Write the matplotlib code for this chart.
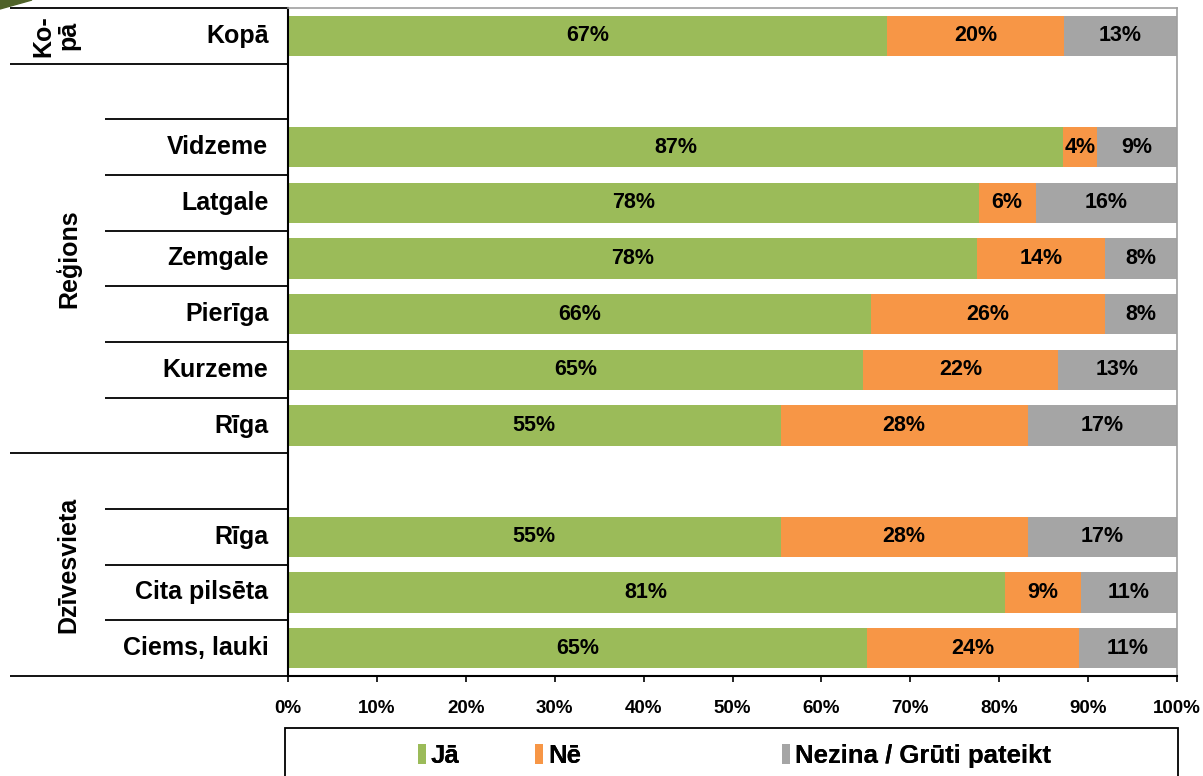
import matplotlib.pyplot as plt
import matplotlib.patches as mpatches
import numpy as np

plt.rcParams['font.family'] = ['Liberation Sans', 'DejaVu Sans']
plt.rcParams['font.weight'] = 'bold'

# rows from top to bottom, '' = empty spacer row
categories = ['Kopā', '', 'Vidzeme', 'Latgale', 'Zemgale', 'Pierīga', 'Kurzeme',
              'Rīga', '', 'Rīga', 'Cita pilsēta', 'Ciems, lauki']
ja = [67.4, np.nan, 87.2, 77.7, 77.5, 65.6, 64.7, 55.4, np.nan, 55.4, 80.6, 65.1]
ne = [19.9, np.nan, 3.8, 6.4, 14.4, 26.3, 21.9, 27.8, np.nan, 27.8, 8.6, 23.9]
nezina = [12.7, np.nan, 9.0, 15.9, 8.1, 8.1, 13.4, 16.8, np.nan, 16.8, 10.8, 11.0]
series_names = ['Jā', 'Nē', 'Nezina / Grūti pateikt']
colors = ['#9BBB59', '#F79646', '#A5A5A5']
# group labels: (text, first row, last row)
groups = [('Ko-\npā', 0, 0), ('Reģions', 1, 7), ('Dzīvesvieta', 8, 11)]

W, H = 1203, 776
fig = plt.figure(figsize=(W / 100, H / 100), dpi=100)
ax = fig.add_axes([288 / W, 1 - 676 / H, 889 / W, 668 / H])

y = np.arange(len(categories))
left = np.zeros(len(categories))
handles = []
for vals, name, col in zip([ja, ne, nezina], series_names, colors):
    vals = np.array(vals, dtype=float)
    v = np.nan_to_num(vals)
    bars = ax.barh(y, v, left=left, height=0.72, color=col, label=name)
    handles.append(bars)
    for yi, l, w in zip(y, left, vals):
        if not np.isnan(w):
            ax.text(l + w / 2, yi, f'{w:.0f}%', ha='center', va='center',
                    fontsize=15.5, fontweight='bold', color='black')
    left += v

ax.set_xlim(0, 100)
ax.set_ylim(len(categories) - 0.5, -0.5)
ax.set_xticks(np.arange(0, 101, 10))
ax.set_xticklabels([f'{t}%' for t in range(0, 101, 10)], fontsize=13.5, fontweight='bold')
ax.tick_params(axis='x', length=4, width=1.2, direction='out', pad=13)
ax.set_yticks([])

for s in ['left', 'bottom']:
    ax.spines[s].set_color('black')
    ax.spines[s].set_linewidth(1.5)
for s in ['top', 'right']:
    ax.spines[s].set_color('#A0A0A0')
    ax.spines[s].set_linewidth(1.2)

# category labels
tr = ax.get_yaxis_transform()
for yi, cat in zip(y, categories):
    if cat:
        ax.text(-0.022, yi, cat, transform=tr, ha='right', va='center',
                fontsize=18, fontweight='bold')

# separator lines on the left
x_long = (10 - 288) / 889
x_short = (105 - 288) / 889
group_edges = set()
for _, a, b in groups:
    group_edges.add(a - 0.5)
    group_edges.add(b + 0.5)
for edge in np.arange(-0.5, len(categories), 1.0):
    x0 = x_long if edge in group_edges else x_short
    ax.plot([x0, 0], [edge, edge], transform=tr, color='black', lw=1.3,
            clip_on=False, solid_capstyle='butt')

# group labels
for text, a, b in groups:
    xc = (56 - 288) / 889 if a == 0 else (68 - 288) / 889
    ax.text(xc, (a + b) / 2, text, transform=tr, rotation=90, ha='center',
            va='center', fontsize=18, fontweight='bold', linespacing=1.05)

# legend box
fig.patches.append(mpatches.Rectangle((285 / W, -0.05), 893 / W, 1 - 728 / H + 0.05,
                                      transform=fig.transFigure, fill=False,
                                      edgecolor='black', lw=1.3))
legend_x = [418, 535, 782]
for h, name, lx in zip(handles, series_names, legend_x):
    leg = fig.legend(handles=[h], labels=[name], loc='center left',
                     bbox_to_anchor=(lx / W, 1 - 756 / H), frameon=False,
                     fontsize=18.5, handlelength=0.3, handleheight=0.85,
                     handletextpad=0.2, borderpad=0, borderaxespad=0)
    fig.add_artist(leg)

# decorative corner
fig.patches.append(mpatches.Polygon([(0, 1), (32 / W, 1), (0, 1 - 9 / H)],
                                    closed=True, transform=fig.transFigure,
                                    color='#4F6228'))

fig.savefig('out.png', dpi=100)
